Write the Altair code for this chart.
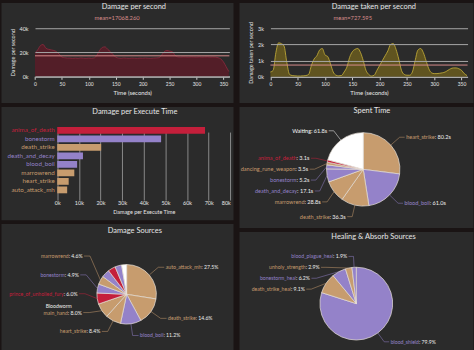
import altair as alt
import pandas as pd

FONT = "Lato"
PANEL = "#2b2b2b"
GAP = "#1a1414"
TXT = "#e6e6e6"
GRID = "#a8a8a8"
TAN = "#C79C6E"
LAV = "#9482C9"
RED = "#C41F3B"
WHT = "#FFFFFF"
MEANC = "#d98c8c"
SCHOOL = {"tan": TAN, "lav": LAV, "red": RED, "wht": WHT}

# ---------------- data ----------------
time_s = list(range(0, 361, 5))
dps_vals = [19500, 22000, 25500, 26500, 23500, 22500, 22000, 21500, 20500, 18500,
            16000, 15500, 15200, 15200, 15000, 15200, 15000, 15300, 15100, 15000,
            15200, 15000, 15300, 17500, 21500, 24000, 24500, 22500, 20500, 18000,
            16000, 15200, 15000, 15300, 15100, 15000, 15200, 15100, 15000, 15200,
            15100, 15300, 15100, 15000, 15200, 15300, 15500, 17500, 20500, 21500,
            21000, 20500, 17500, 16200, 16000, 16200, 16100, 16000, 16200, 16100,
            16000, 16200, 16000, 16100, 16200, 16000, 16100, 16000, 15500, 14500,
            12000, 8000, 4000]
dtps_vals = [300, 400, 1500, 2100, 2050, 1900, 900, 150, 80, 60,
             50, 50, 60, 80, 150, 700, 1100, 1300, 1650, 1750,
             1350, 1250, 800, 300, 100, 60, 80, 300, 600, 1200,
             1550, 1700, 1750, 1500, 1000, 400, 150, 50, 100, 400,
             700, 1000, 1300, 1600, 2000, 2050, 1700, 1100, 400, 150,
             100, 100, 300, 1000, 1650, 1750, 1500, 1000, 500, 250,
             200, 200, 220, 250, 300, 400, 500, 550, 550, 500,
             400, 200, 80]
dps_mean = 17068.260
dtps_mean = 727.595
time_ticks = list(range(0, 351, 50))
dps_ticks = [0, 20000, 40000]
dtps_ticks = [0, 1000, 2000, 3000]

exec_names = ["anima_of_death", "bonestorm", "death_strike", "death_and_decay",
              "blood_boil", "marrowrend", "heart_strike", "auto_attack_mh"]
exec_vals = [68300, 48000, 20300, 11900, 9200, 7900, 5300, 4600]
exec_school = ["red", "lav", "tan", "lav", "lav", "tan", "tan", "tan"]

spent_names = ["heart_strike", "blood_boil", "death_strike", "marrowrend", "death_and_decay",
               "bonestorm", "dancing_rune_weapon", "anima_of_death", "Waiting"]
spent_secs = [80.2, 61.0, 36.3, 28.8, 17.1, 5.2, 3.5, 3.1, 61.8]
spent_school = ["tan", "lav", "tan", "tan", "lav", "lav", "tan", "red", "wht"]

src_names = ["auto_attack_mh", "death_strike", "blood_boil", "heart_strike", "main_hand",
             "prince_of_unholied_fury", "bonestorm", "marrowrend", "blood_plague",
             "soul_reaper", "consumption", "melee"]
src_pct = [27.5, 14.6, 11.2, 8.4, 8.0, 6.0, 4.9, 4.6, 4.4, 4.1, 3.6, 2.7]
src_school = ["tan", "tan", "lav", "tan", "tan", "red", "lav", "tan", "lav", "red", "lav", "wht"]
src_show = [1, 1, 1, 1, 1, 1, 1, 1, 0, 0, 0, 0]

heal_names = ["blood_shield", "death_strike_heal", "bonestorm_heal", "unholy_strength", "blood_plague_heal"]
heal_pct = [79.9, 9.1, 6.2, 2.9, 1.9]
heal_school = ["lav", "tan", "lav", "tan", "lav"]


def ttl(text, dx, off):
    return alt.TitleParams(text=text, fontSize=7.5, color=TXT, font=FONT, fontWeight="normal",
                           anchor="middle", frame="group", offset=off, dx=dx)


def timeline(vals, mean, W, H, xr, yr, ydom, yvals, fill, line, title, ytitle, tdx, mean_x):
    df = pd.DataFrame({"t": time_s, "v": vals})
    xs = alt.Scale(domain=[0, 361], range=xr, nice=False, zero=False)
    ys = alt.Scale(domain=ydom, range=yr, nice=False)
    xax = alt.Axis(values=time_ticks, orient="bottom", offset=yr[0] - H,
                   title="Time (seconds)", labelFlush=False, labelOverlap=False, grid=False,
                   domain=True, domainColor="#dddddd", domainWidth=1, tickColor="#cccccc",
                   tickSize=3, labelFontSize=5, labelColor=TXT, labelPadding=2, labelFont=FONT,
                   titleFont=FONT, titleFontSize=6, titleColor=TXT, titlePadding=3,
                   titleFontWeight="normal")
    yax = alt.Axis(values=yvals, orient="left", offset=-xr[0],
                   title=ytitle, grid=True, gridColor=GRID, gridWidth=1, domain=False,
                   ticks=False, labelOverlap=False, zindex=1,
                   labelExpr="(datum.value/1000) + 'k'", labelFontSize=5.5, labelColor=TXT,
                   labelPadding=7, labelFont=FONT, titleFont=FONT, titleFontSize=5.5,
                   titleColor=TXT, titlePadding=4, titleFontWeight="normal")
    mdf = pd.DataFrame({"t": [0], "t1": [361], "v": [mean], "lbl": [f"mean={mean:.3f}"]})
    area = alt.Chart(df).mark_area(color=fill, interpolate="monotone", opacity=0.85,
                                   line={"color": line, "strokeWidth": 0.8}).encode(
        x=alt.X("t:Q", scale=xs, axis=xax, title=ytitle and "Time (seconds)"),
        y=alt.Y("v:Q", scale=ys, axis=yax, title=ytitle))
    rule = alt.Chart(mdf).mark_rule(color=MEANC, strokeWidth=1).encode(
        x=alt.X("t:Q", scale=xs, axis=xax, title="Time (seconds)"), x2="t1:Q",
        y=alt.Y("v:Q", scale=ys, axis=yax, title=ytitle))
    txt = alt.Chart(mdf).mark_text(font=FONT, fontSize=5.8, color=MEANC, align="center",
                                   baseline="middle").encode(
        x=alt.value(mean_x), y=alt.value(16), text="lbl:N")
    return alt.layer(area, rule, txt).properties(width=W, height=H, title=ttl(title, tdx, -8.5))


def exec_panel(W, H):
    df = pd.DataFrame({"name": exec_names, "v": exec_vals,
                       "col": [SCHOOL[s] for s in exec_school]})
    xs = alt.Scale(domain=[0, 80000], range=[56.7, 231.3], nice=False)
    ys = alt.Scale(domain=exec_names, range=[19.7, 88.3], paddingInner=0.2, paddingOuter=0.1)
    conds = []
    for sch in ["red", "lav", "tan"]:
        members = [n for n, s in zip(exec_names, exec_school) if s == sch]
        arr = "[" + ",".join(f"'{m}'" for m in members) + "]"
        conds.append({"test": f"indexof({arr}, datum.value) >= 0", "value": SCHOOL[sch]})
    lab_color = {"condition": conds, "value": TXT}
    lab_align = {"condition": {"test": "datum.value >= 80000", "value": "right"}, "value": "center"}
    bars = alt.Chart(df).mark_bar().encode(
        x=alt.X("v:Q", scale=xs, axis=alt.Axis(
            values=list(range(0, 80001, 10000)), labelExpr="(datum.value/1000) + 'k'",
            orient="bottom", offset=88.3 - H, grid=True, gridColor="#8a8a8a", gridWidth=1,
            domain=False, ticks=False, labelFontSize=5.5, labelColor=TXT, labelFont=FONT,
            labelPadding=6, labelFlush=False, labelOverlap=False, labelAlign=lab_align,
            title="Damage per Execute Time", titleFont=FONT, titleFontSize=5.5, titleColor=TXT,
            titlePadding=4, titleFontWeight="normal")),
        y=alt.Y("name:N", scale=ys, sort=exec_names, axis=alt.Axis(
            orient="left", offset=-56.7, domain=False, ticks=False, labelFontSize=6.3,
            labelFont=FONT, labelPadding=3, title=None, labelColor=lab_color,
            labelOverlap=False)),
        color=alt.Color("col:N", scale=None))
    return bars.properties(width=W, height=H, title=ttl("Damage per Execute Time", 18, -9))


def pie_panel(names, vals, schools, vlabels, show, W, H, cx, cy, r, L, H2,
              s_down, s_up, left_mode, title, tdx, toff, fs=5.2, extra=None):
    n = len(names)
    df = pd.DataFrame({"idx": list(range(n)), "name": names, "value": vals,
                       "col": [SCHOOL[s] for s in schools],
                       "ncol": [SCHOOL[s] for s in schools],
                       "vlab": vlabels, "show": show})
    R = r + L
    base = alt.Chart(df)
    arcs = base.mark_arc(outerRadius=r, stroke="#e8e0d8", strokeWidth=0.7).encode(
        theta=alt.Theta("value:Q", stack=True),
        color=alt.Color("col:N", scale=None),
        order=alt.Order("idx:Q", sort="ascending"),
        x=alt.value(cx), y=alt.value(cy))
    ly_expr = "datum.yu" if left_mode == "up" else "datum.yd"
    lab = (base
           .transform_joinaggregate(total="sum(value)")
           .transform_window(cum="sum(value)", sort=[alt.SortField("idx", order="ascending")],
                             frame=[None, 0])
           .transform_calculate(mid="(datum.cum - datum.value/2)/datum.total*2*PI")
           .transform_filter("datum.show == 1")
           .transform_calculate(side="sin(datum.mid) < 0 ? -1 : 1",
                                ny=f"{cy} - {R}*cos(datum.mid)",
                                nxr=f"{R}*sin(datum.mid)",
                                ex=f"{cx} + {r}*sin(datum.mid)",
                                ey=f"{cy} - {r}*cos(datum.mid)")
           .transform_window(k1="row_number()", groupby=["side"],
                             sort=[alt.SortField("ny", order="ascending")])
           .transform_calculate(adjd=f"datum.ny - datum.k1*{s_down}")
           .transform_window(md="max(adjd)", groupby=["side"],
                             sort=[alt.SortField("ny", order="ascending")], frame=[None, 0])
           .transform_calculate(yd=f"datum.md + datum.k1*{s_down}")
           .transform_window(k2="row_number()", groupby=["side"],
                             sort=[alt.SortField("ny", order="descending")])
           .transform_calculate(adju=f"datum.ny + datum.k2*{s_up}")
           .transform_window(mu="min(adju)", groupby=["side"],
                             sort=[alt.SortField("ny", order="descending")], frame=[None, 0])
           .transform_calculate(yu=f"datum.mu - datum.k2*{s_up}")
           .transform_calculate(ly=f"datum.side < 0 ? {ly_expr} : datum.yd")
           .transform_calculate(semi=f"datum.ly > {cy} ? 1 : 0", dy=f"datum.ly - {cy}",
                                ady=f"abs(datum.ly - {cy})")
           .transform_calculate(rbi=f"abs(datum.nxr) < {R} ? sqrt(datum.dy*datum.dy / max(0.0001, 1 - datum.nxr*datum.nxr/{R*R})) : {R}")
           .transform_window(rb="first_value(rbi)", groupby=["side", "semi"],
                             sort=[alt.SortField("ady", order="descending")], frame=[None, None])
           .transform_calculate(dxl=f"{R}*sqrt(max(0, 1 - datum.dy*datum.dy/max(0.0001, datum.rb*datum.rb)))")
           .transform_calculate(p1x=f"{cx} + datum.side*datum.dxl",
                                p2x=f"{cx} + datum.side*(datum.dxl + {H2})",
                                tx=f"{cx} + datum.side*(datum.dxl + {H2} + 1.5)",
                                full="datum.name + ': ' + datum.vlab",
                                tail="': ' + datum.vlab"))
    seg1 = lab.mark_rule(strokeWidth=0.6, opacity=0.85).encode(
        x=alt.X("ex:Q", scale=None), y=alt.Y("ey:Q", scale=None),
        x2="p1x:Q", y2="ly:Q", color=alt.Color("col:N", scale=None))
    seg2 = lab.mark_rule(strokeWidth=0.6, opacity=0.85).encode(
        x=alt.X("p1x:Q", scale=None), y=alt.Y("ly:Q", scale=None),
        x2="p2x:Q", color=alt.Color("col:N", scale=None))
    tk = dict(font=FONT, fontSize=fs, baseline="middle")
    pos = dict(x=alt.X("tx:Q", scale=None), y=alt.Y("ly:Q", scale=None))
    rgt = lab.transform_filter("datum.side > 0")
    lft = lab.transform_filter("datum.side < 0")
    layers = [arcs, seg1, seg2,
              rgt.mark_text(align="left", fill="#eeeeee", **tk).encode(text="full:N", **pos),
              rgt.mark_text(align="left", fill=PANEL, stroke=PANEL, strokeWidth=1.0, **tk).encode(text="name:N", **pos),
              rgt.mark_text(align="left", **tk).encode(text="name:N", color=alt.Color("ncol:N", scale=None), **pos),
              lft.mark_text(align="right", **tk).encode(text="full:N", color=alt.Color("ncol:N", scale=None), **pos),
              lft.mark_text(align="right", fill=PANEL, stroke=PANEL, strokeWidth=1.0, **tk).encode(text="tail:N", **pos),
              lft.mark_text(align="right", fill="#eeeeee", **tk).encode(text="tail:N", **pos)]
    if extra:
        nm, txt = extra
        layers.append(lab.transform_filter(f"datum.name == '{nm}'").mark_text(
            align="right", fill="#eeeeee", dy=-6.5, dx=-10, **tk).encode(text=alt.value(txt), **pos))
    return alt.layer(*layers).properties(width=W, height=H, title=ttl(title, tdx, toff))


p1 = timeline(dps_vals, dps_mean, 234, 101, [34.3, 230.3], [74.5, 26], [0, 40000],
              dps_ticks, "#5a1c28", "#8e2a3e", "Damage per second",
              "Damage per second", 17, 117)
p2 = timeline(dtps_vals, dtps_mean, 236, 101, [31.7, 230.5], [75, 26], [0, 3000],
              dtps_ticks, "#6a5c1e", "#c9b23a", "Damage taken per second",
              "Damage taken per second", 18, 114.7)
p3 = exec_panel(234, 114)
p4 = pie_panel(spent_names, spent_secs, spent_school, [f"{v:.1f}s" for v in spent_secs],
               [1] * len(spent_names), 236, 122, 125.3, 63.3, 37, 12, 5, 11, 11, "down",
               "Spent Time", 16, -8.3, fs=5.6)
p5 = pie_panel(src_names, src_pct, src_school, [f"{v:.1f}%" for v in src_pct], src_show,
               234, 127, 126.7, 71.3, 30, 12, 6, 11, 19, "up", "Damage Sources", 18, -11,
               extra=("main_hand", "Bloodworm"))
p6 = pie_panel(heal_names, heal_pct, heal_school, [f"{v:.1f}%" for v in heal_pct],
               [1] * len(heal_names), 236, 119, 118.3, 72.7, 36.7, 11, 5, 11, 11, "down",
               "Healing & Absorb Sources", 17.7, -9)

left = alt.vconcat(p1, p3, p5, spacing=4, bounds="flush")
right = alt.vconcat(p2, p4, p6, spacing=4, bounds="flush")
chart = (alt.hconcat(left, right, spacing=4)
         .configure(background=GAP, padding=0)
         .configure_view(fill=PANEL, stroke="transparent"))

chart.save("out.html", embed_options={"renderer": "svg", "actions": False})
